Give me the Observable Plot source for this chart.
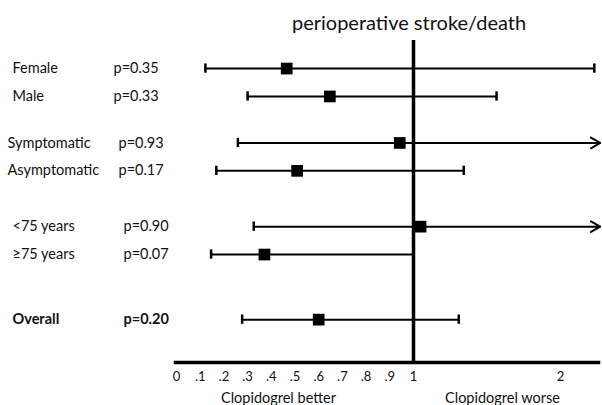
<!DOCTYPE html>
<html>
<head>
<meta charset="utf-8">
<script src="https://cdn.jsdelivr.net/npm/d3@7"></script>
<script src="https://cdn.jsdelivr.net/npm/@observablehq/plot@0.6"></script>
<style>
  html, body { margin: 0; padding: 0; background: #fff; }
</style>
</head>
<body>
<div id="chart"></div>
<script>
// ---- data ----
const title = "perioperative stroke/death";
const subgroups = ["Female", "Male", "Symptomatic", "Asymptomatic", "<75 years", "\u226575 years", "Overall"];
const groups    = ["sex", "sex", "symptom", "symptom", "age", "age", "overall"];
const pLabels   = ["p=0.35", "p=0.33", "p=0.93", "p=0.17", "p=0.90", "p=0.07", "p=0.20"];
const estimate  = [0.465, 0.647, 0.942, 0.509, 1.048, 0.371, 0.600];
const lower     = [0.122, 0.300, 0.259, 0.168, 0.326, 0.146, 0.277];
const upper     = [2.23, 1.565, null, 1.342, null, 1.0, 1.308]; // null = CI continues off the chart (arrow)
const tickValues = [0, 0.1, 0.2, 0.3, 0.4, 0.5, 0.6, 0.7, 0.8, 0.9, 1, 2];
const tickLabels = ["0", ".1", ".2", ".3", ".4", ".5", ".6", ".7", ".8", ".9", "1", "2"];
const xMaxValue = 2.27;
const directionLabels = ["Clopidogrel better", "Clopidogrel worse"];

// ---- layout helpers ----
// empty slots inserted after each row (row spacing = 3 slots; wider gaps between groups)
const spacersAfter = [2, 4, 2, 5, 2, 6];
const rowOrder = [];
subgroups.forEach((s, i) => {
  rowOrder.push(s);
  for (let k = 0; k < (spacersAfter[i] || 0); k++) rowOrder.push(`gap-${i}-${k}`);
});

// broken (two-segment) axis: values above 1 are drawn compressed
const above1Ratio = 147 / 237;
const warp = v => (v <= 1 ? v : 1 + (v - 1) * above1Ratio);

const rows = subgroups.map((s, i) => ({
  name: s, group: groups[i], p: pLabels[i],
  est: estimate[i], lo: lower[i], hi: upper[i]
}));
const closed = rows.filter(d => d.hi !== null);
const open = rows.filter(d => d.hi === null);

function labels(filter, dxName, dxP, weight) {
  const data = rows.filter(filter);
  return [
    Plot.text(data, {y: "name", text: "name", frameAnchor: "left", textAnchor: "start", dx: dxName, fontSize: 14.5, fontWeight: weight, fill: "#111"}),
    Plot.text(data, {y: "name", text: "p", frameAnchor: "left", textAnchor: "start", dx: dxP, fontSize: 14.5, fontWeight: weight, fill: "#111"})
  ];
}

const warpedTicks = tickValues.map(warp);

const chart = Plot.plot({
  width: 602,
  height: 405,
  marginLeft: 175,
  marginRight: 4,
  marginTop: 40,
  marginBottom: 43,
  style: {fontFamily: "Lato, 'Open Sans', sans-serif", fontSize: "13px", background: "#fff", color: "#111"},
  x: {
    type: "linear",
    domain: [0, warp(xMaxValue)],
    range: [176, 176 + 237 * warp(xMaxValue)],
    ticks: warpedTicks,
    tickFormat: d => tickLabels[warpedTicks.findIndex(t => Math.abs(t - d) < 1e-9)],
    tickSize: 0,
    tickPadding: 9,
    label: null
  },
  y: {type: "band", domain: rowOrder, range: [63.4, 323.8], padding: 0, round: false, axis: null},
  marks: [
    Plot.frame({anchor: "bottom", strokeWidth: 3.5, stroke: "#000"}),
    // CI lines
    Plot.ruleY(closed, {y: "name", x1: d => warp(d.lo), x2: d => warp(d.hi), stroke: "#000", strokeWidth: 2}),
    Plot.arrow(open, {y1: "name", y2: "name", x1: d => warp(d.lo), x2: () => warp(xMaxValue), stroke: "#000", strokeWidth: 2, headLength: 8, headAngle: 60}),
    // caps
    Plot.tickX(rows, {x: d => warp(d.lo), y: "name", stroke: "#000", strokeWidth: 2.5}),
    Plot.tickX(closed, {x: d => warp(d.hi), y: "name", stroke: "#000", strokeWidth: 2.5}),
    // point estimates
    Plot.dot(rows, {x: d => warp(d.est), y: "name", symbol: "square", r: 6.6, fill: "#000", stroke: "none"}),
    // line of no effect
    Plot.ruleX([warp(1)], {stroke: "#000", strokeWidth: 3.5}),
    // left labels
    ...labels(d => d.group === "sex", -163, -62, "normal"),
    ...labels(d => d.group === "symptom", -168, -57, "normal"),
    ...labels(d => d.group === "age", -163, -52, "normal"),
    ...labels(d => d.group === "overall", -163, -52, "bold"),
    // title
    Plot.text([title], {frameAnchor: "top", lineAnchor: "middle", dx: 22, dy: -17, fontSize: 20, fill: "#111"}),
    // direction labels
    Plot.text([directionLabels[0]], {frameAnchor: "bottom-left", textAnchor: "middle", lineAnchor: "middle", dx: 103, dy: 36, fontSize: 14.5, fill: "#111"}),
    Plot.text([directionLabels[1]], {frameAnchor: "bottom-left", textAnchor: "middle", lineAnchor: "middle", dx: 327, dy: 36, fontSize: 14.5, fill: "#111"})
  ]
});
document.getElementById("chart").appendChild(chart);
</script>
</body>
</html>
